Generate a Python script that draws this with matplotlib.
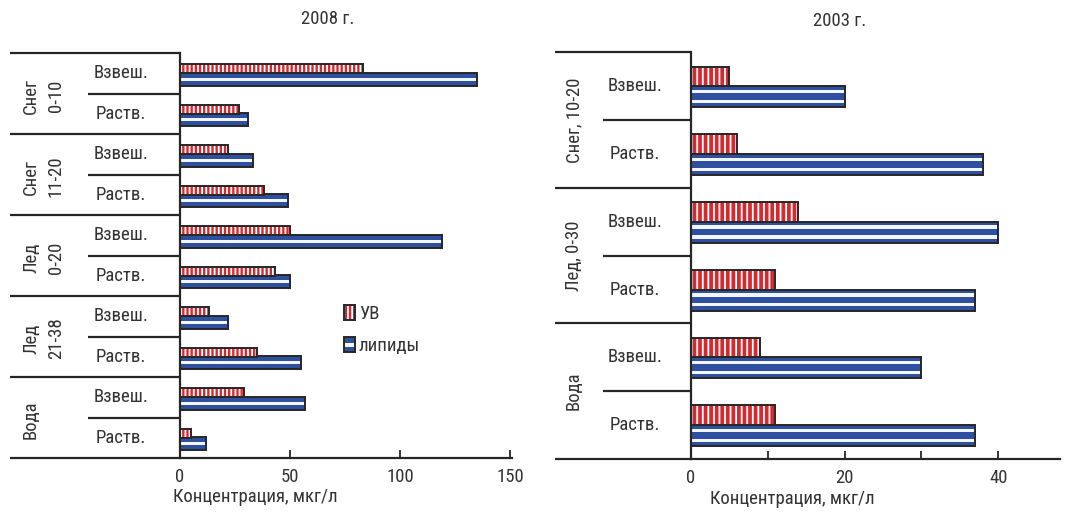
import matplotlib
matplotlib.use("Agg")
import matplotlib.pyplot as plt
from matplotlib import font_manager
from matplotlib.patches import Rectangle, Patch
from matplotlib.transforms import blended_transform_factory
import numpy as np

# ---------------- data ----------------
sub_labels = ['Взвеш.', 'Раств.']

groups_2008 = ['Снег\n0-10', 'Снег\n11-20', 'Лед\n0-20', 'Лед\n21-38', 'Вода']
uv_2008 = [83, 27, 22, 38, 50, 43, 13, 35, 29, 5]
lip_2008 = [135, 31, 33, 49, 119, 50, 22, 55, 57, 12]
ticks_2008 = [0, 50, 100, 150]

groups_2003 = ['Снег, 10-20', 'Лед, 0-30', 'Вода']
uv_2003 = [5, 6, 14, 11, 9, 11]
lip_2003 = [20, 38, 40, 37, 30, 37]
ticks_2003 = [0, 20, 40]
minor_2003 = [10, 30]

series_names = ['УВ', 'липиды']
xlabel = 'Концентрация, мкг/л'
titles = ['2008 г.', '2003 г.']

# ---------------- style ----------------
names = {f.name for f in font_manager.fontManager.ttflist}
if 'Liberation Sans Narrow' in names:
    FONT = dict(family='Liberation Sans Narrow')
elif 'Roboto Condensed' in names:
    FONT = dict(family='Roboto Condensed')
else:
    FONT = dict(family='DejaVu Sans', stretch='condensed')
plt.rcParams['font.family'] = FONT['family']
if 'stretch' in FONT:
    plt.rcParams['font.stretch'] = 'condensed'
plt.rcParams['hatch.linewidth'] = 1.3

TXT = '#333333'
RED = '#d42a2f'
BLUE = '#2f509e'
STRIPE = '#f2f6ff'
EDGE = '#262626'
FS = 13.5

W, H = 1068, 513
fig = plt.figure(figsize=(W / 100, H / 100), dpi=100)


def fx(px):
    return px / W


def fy(py):
    return 1 - py / H


def make_panel(rect, groups, uv, lip, xmax, ticks, minor, cfg):
    ax = fig.add_axes(rect)
    n = len(uv)
    y = np.arange(n)
    # lipids: blue fill, white stripes, outline
    ax.barh(y + cfg['lip_off'], lip, height=cfg['lip_h'], color=BLUE, lw=0)
    for so in cfg['stripes']:
        ax.barh(y + cfg['lip_off'] + so, lip, height=cfg['stripe_h'], color=STRIPE, lw=0)
    ax.barh(y + cfg['lip_off'], lip, height=cfg['lip_h'], fill=False, edgecolor=EDGE, lw=1.4)
    # UV: red fill with white vertical hatch, outline
    ax.barh(y + cfg['uv_off'], uv, height=cfg['uv_h'], facecolor=RED, edgecolor='white',
            hatch=cfg['hatch'], lw=0)
    ax.barh(y + cfg['uv_off'], uv, height=cfg['uv_h'], fill=False, edgecolor=EDGE, lw=1.4)

    ax.set_ylim(n - 0.5, -0.5)
    ax.set_xlim(0, xmax)
    ax.set_yticks([])
    ax.set_xticks(ticks)
    ax.set_xticks(minor, minor=True)
    ax.set_xticklabels([str(t) for t in ticks], fontsize=FS, color=TXT)
    ax.tick_params(axis='x', which='both', direction='in', length=6, width=1.3,
                   color=EDGE, pad=7)
    for s in ['top', 'right']:
        ax.spines[s].set_visible(False)
    for s in ['left', 'bottom']:
        ax.spines[s].set_linewidth(1.6)
        ax.spines[s].set_color(EDGE)
    ax.patch.set_alpha(0)

    tr = blended_transform_factory(fig.transFigure, ax.transData)
    x_axis = rect[0]
    per = n // len(groups)
    # group separators
    for g in range(len(groups) + 1):
        yy = g * per - 0.5
        ax.plot([fx(cfg['grp_x']), x_axis], [yy, yy], transform=tr, color=EDGE,
                lw=1.6, clip_on=False, solid_capstyle='butt')
    # sub separators
    for g in range(len(groups)):
        for k in range(1, per):
            yy = g * per + k - 0.5
            ax.plot([fx(cfg['sub_x']), x_axis], [yy, yy], transform=tr, color=EDGE,
                    lw=1.6, clip_on=False, solid_capstyle='butt')
    # group labels
    for g, lab in enumerate(groups):
        yc = g * per + (per - 1) / 2
        ax.text(fx(cfg['glab_x']), yc + cfg['glab_dy'], lab, transform=tr, rotation=90,
                ha=cfg['glab_ha'], va='center', fontsize=FS, color=TXT,
                linespacing=1.5, multialignment='center')
    # sub labels
    for i in range(n):
        ax.text(fx(cfg['slab_x']), i, sub_labels[i % per], transform=tr, ha='center',
                va='center', fontsize=FS, color=TXT)
    ax.set_xlabel(xlabel, fontsize=FS, color=TXT)
    ax.xaxis.set_label_coords(cfg['xl_x'], -0.075)
    return ax


class StackHandler:
    def __init__(self, kind):
        self.kind = kind

    def legend_artist(self, legend, orig_handle, fontsize, handlebox):
        x0, y0 = -handlebox.xdescent, -handlebox.ydescent
        w, h = handlebox.width, handlebox.height
        t = handlebox.get_transform()
        if self.kind == 'uv':
            p1 = Rectangle((x0, y0), w, h, facecolor=RED, edgecolor='white', hatch='||||',
                           lw=0, transform=t)
            handlebox.add_artist(p1)
        else:
            p1 = Rectangle((x0, y0), w, h, facecolor=BLUE, lw=0, transform=t)
            handlebox.add_artist(p1)
            p3 = Rectangle((x0, y0 + h * 0.38), w, h * 0.24, facecolor=STRIPE, lw=0, transform=t)
            handlebox.add_artist(p3)
        p2 = Rectangle((x0, y0), w, h, fill=False, edgecolor=EDGE, lw=1.4, transform=t)
        handlebox.add_artist(p2)
        return p2


# left panel (2008)
rect_l = [fx(180), fy(458), fx(512) - fx(180), fy(53) - fy(458)]
cfg_l = dict(lip_off=0.15, lip_h=0.32, uv_off=-0.11, uv_h=0.23, stripes=[0.0],
             stripe_h=0.08, hatch='||||', grp_x=10, sub_x=88, glab_x=22, glab_ha='left',
             glab_dy=0.05, slab_x=121, xl_x=0.226)
axl = make_panel(rect_l, groups_2008, uv_2008, lip_2008, 332 / 2.2, ticks_2008, [], cfg_l)

# right panel (2003)
rect_r = [fx(690.7), fy(459), fx(1060) - fx(690.7), fy(52.3) - fy(459)]
cfg_r = dict(lip_off=0.155, lip_h=0.31, uv_off=-0.145, uv_h=0.29, stripes=[-0.075, 0.07],
             stripe_h=0.05, hatch='|||', grp_x=555, sub_x=603, glab_x=574, glab_ha='center',
             glab_dy=0.0, slab_x=635, xl_x=0.274)
axr = make_panel(rect_r, groups_2003, uv_2003, lip_2003, 369.3 / 7.69, ticks_2003, minor_2003, cfg_r)

# titles
fig.text(fx(328), fy(19), titles[0], ha='center', va='center', fontsize=FS, color=TXT)
fig.text(fx(840), fy(21), titles[1], ha='center', va='center', fontsize=FS, color=TXT)

# legend in left panel
h_uv = Patch(label=series_names[0])
h_lip = Patch(label=series_names[1])
axl.legend(handles=[h_uv, h_lip], handler_map={h_uv: StackHandler('uv'), h_lip: StackHandler('lip')},
           loc='center left', bbox_to_anchor=(0.465, 0.315), frameon=False, fontsize=FS,
           handlelength=0.6, handleheight=0.85, handletextpad=0.2, labelspacing=0.75,
           borderpad=0, labelcolor=TXT)

fig.savefig('out.png', dpi=100)
